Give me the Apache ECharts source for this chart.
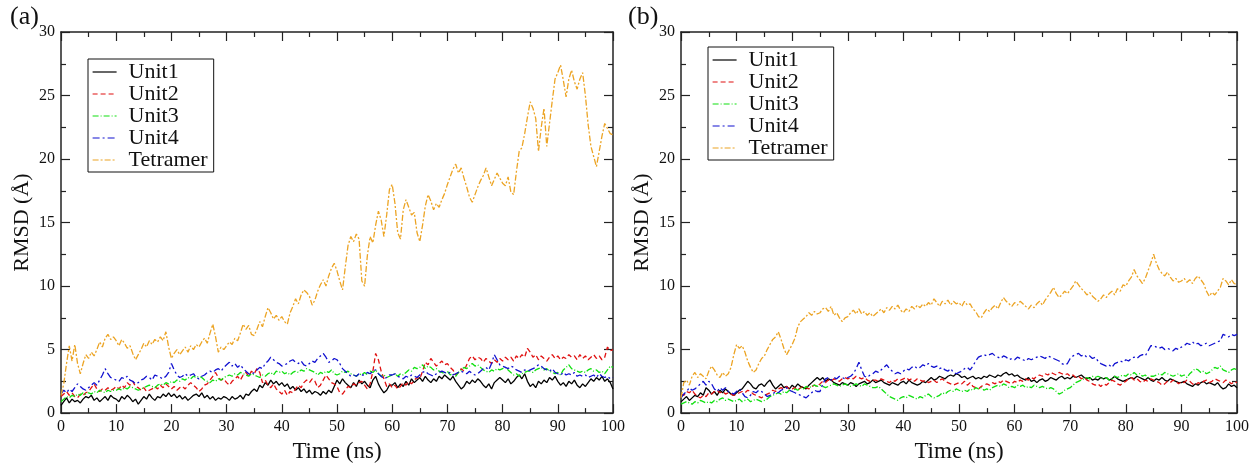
<!DOCTYPE html>
<html>
<head>
<meta charset="utf-8">
<script src="https://cdn.jsdelivr.net/npm/echarts@6/dist/echarts.min.js"></script>
<style>
html,body{margin:0;padding:0;background:#fff;}
#chart{width:1258px;height:468px;}
</style>
</head>
<body>
<div id="chart"></div>
<script>
// sampling step of the trajectories (ns)
const TIME_STEP = 0.5;
const seriesNames = ['Unit1', 'Unit2', 'Unit3', 'Unit4', 'Tetramer'];
const xTicks = [0, 10, 20, 30, 40, 50, 60, 70, 80, 90, 100];
const yTicks = [0, 5, 10, 15, 20, 25, 30];

// ---------- Panel (a) ----------
const a_unit1 = [
0.6,0.9,1.2,0.8,1.1,0.9,1.0,0.8,1.1,1.3,
1.2,1.4,1.0,1.2,0.9,1.1,1.3,1.0,1.4,1.2,
1.1,0.9,1.3,1.1,1.4,1.2,0.9,1.1,0.7,1.0,
1.3,1.1,1.5,1.2,1.0,1.3,1.2,1.5,1.3,1.6,
1.3,1.5,1.2,1.4,1.1,1.3,1.0,1.2,1.4,1.5,
1.3,1.6,1.2,1.4,1.1,1.3,1.0,1.2,1.1,1.3,
1.2,1.0,1.3,1.1,1.2,1.4,1.1,1.5,1.4,1.7,
1.9,1.7,2.2,2.0,2.4,2.2,2.6,2.3,2.5,2.2,
2.4,2.1,2.3,1.9,2.1,1.8,2.0,1.7,1.9,1.6,
1.8,1.5,1.7,1.6,1.4,1.7,1.5,1.8,1.6,2.1,
2.6,2.3,2.7,2.4,2.2,2.0,2.4,2.1,2.6,2.3,
2.5,2.2,2.0,2.6,2.9,2.3,1.9,1.6,1.8,2.2,
2.2,2.4,2.0,2.3,2.1,2.5,2.2,2.7,2.4,2.6,
2.8,2.5,2.9,2.6,2.4,2.7,2.5,2.9,2.7,3.0,
2.8,2.6,2.9,2.5,2.2,1.9,2.1,2.5,2.3,2.6,
2.4,2.7,2.5,2.2,2.0,2.3,1.9,2.4,2.6,2.8,
2.6,2.4,2.7,2.3,2.5,2.8,3.0,2.7,3.1,2.5,
2.1,2.3,2.0,2.5,2.3,2.6,2.4,2.8,2.6,2.9,
2.5,2.2,2.4,2.1,2.5,2.3,2.6,2.2,2.0,2.3,
2.1,2.4,2.7,2.5,2.8,2.6,2.9,2.5,2.7,2.4,
1.9];
const a_unit2 = [
1.3,1.5,1.7,1.4,1.6,1.3,1.2,1.5,1.4,1.6,
1.7,2.0,2.3,1.9,1.7,1.9,1.8,2.0,1.8,1.9,
2.1,1.9,2.2,2.0,2.4,2.2,2.5,2.1,2.0,1.8,
2.0,1.7,1.8,1.9,2.1,1.9,2.2,2.0,2.3,2.1,
1.9,2.1,1.8,2.0,2.1,1.9,2.2,2.4,2.2,2.0,
1.7,1.9,2.2,2.3,2.6,2.9,3.2,2.8,2.6,2.7,
2.4,2.2,2.5,2.7,2.9,2.6,3.0,3.2,2.9,3.3,
3.1,3.5,3.2,2.4,2.6,2.2,2.0,2.3,1.9,1.7,
1.5,1.8,1.4,1.7,1.6,1.9,2.2,2.0,2.4,2.6,
2.4,2.7,2.5,2.0,2.2,2.6,3.0,2.7,2.4,2.3,
2.1,1.6,1.5,1.8,2.1,2.0,2.3,2.2,2.4,2.5,
2.2,1.9,2.3,3.3,4.7,4.2,3.3,2.7,2.1,2.3,
2.0,2.2,1.9,2.1,2.4,2.2,2.5,2.3,2.6,2.8,
2.7,3.3,4.0,3.8,4.3,4.0,3.7,3.9,4.1,3.8,
3.9,3.6,3.4,3.0,3.2,3.5,3.3,3.8,4.3,4.5,
4.2,4.4,4.3,4.0,4.3,4.1,3.9,4.2,4.0,4.3,
4.1,4.4,4.2,4.4,4.1,4.5,4.3,4.6,4.4,5.1,
4.8,4.4,4.6,4.2,4.5,4.3,4.1,4.4,4.6,4.3,
4.5,4.2,4.4,4.3,4.6,4.4,4.5,4.2,4.6,4.3,
4.5,4.2,4.4,4.6,4.3,4.5,4.2,4.4,5.2,4.9,
5.0];
const a_unit3 = [
0.9,1.1,1.3,1.2,1.4,1.3,1.5,1.4,1.6,1.5,
1.6,1.5,1.7,1.6,1.8,1.7,1.6,1.8,1.7,1.8,
1.8,1.9,1.8,2.0,1.9,2.1,2.0,1.9,1.8,1.9,
2.0,2.1,2.2,2.1,2.0,2.2,2.3,2.2,2.4,2.3,
2.5,2.4,2.6,2.5,2.7,2.6,2.8,2.7,2.9,2.8,
2.9,2.8,2.6,2.5,2.4,2.6,2.5,2.7,2.6,2.8,
2.9,3.0,2.9,3.1,3.0,3.2,3.1,3.0,2.9,3.1,
3.0,2.9,2.8,3.0,2.9,3.1,3.2,3.0,3.3,3.2,
3.3,3.1,3.2,3.0,3.2,3.3,3.2,3.4,3.3,3.5,
3.4,3.3,3.2,3.0,3.2,3.1,3.3,3.2,3.4,3.1,
3.0,3.1,3.3,3.2,3.3,3.1,3.0,2.9,3.1,3.0,
3.2,3.0,3.3,3.2,3.4,3.1,2.9,3.0,2.8,2.9,
3.0,3.1,2.9,3.1,3.0,3.2,3.4,3.3,3.6,3.5,
3.6,3.8,3.5,3.7,3.6,3.4,3.5,3.3,3.2,3.1,
3.3,3.0,3.1,2.9,3.2,3.4,3.6,3.5,3.7,3.9,
3.7,3.8,3.6,3.4,3.3,3.2,3.4,3.3,3.5,3.4,
3.5,3.6,3.4,3.2,3.0,3.1,2.9,3.1,3.2,3.3,
3.3,3.2,3.4,3.5,3.6,3.4,3.5,3.3,3.2,3.1,
3.2,3.0,3.4,3.6,3.8,3.5,3.4,3.3,3.2,3.3,
3.2,3.4,3.5,3.3,3.4,3.2,3.3,3.1,3.4,3.7,
3.6];
const a_unit4 = [
1.5,1.8,1.6,1.9,1.7,2.0,2.3,2.1,1.9,1.8,
2.0,2.2,2.4,2.2,2.6,3.0,3.5,3.1,2.8,2.7,
2.6,2.5,2.8,2.7,2.9,2.6,2.5,2.3,2.4,2.6,
2.7,2.9,2.8,2.6,3.0,2.9,2.8,2.7,2.9,3.2,
3.9,3.4,3.0,2.8,2.9,3.1,2.9,3.0,3.1,2.8,
2.7,2.9,3.0,3.2,3.3,3.2,3.4,3.5,3.3,3.6,
3.8,4.0,3.7,3.9,3.6,3.8,3.5,3.3,3.1,3.0,
3.2,3.4,3.6,3.5,3.9,4.1,4.4,4.2,4.0,3.9,
3.7,3.8,3.9,4.1,4.2,4.0,3.9,4.1,3.8,3.7,
3.9,4.1,4.0,4.3,4.5,4.7,4.4,4.0,4.1,4.3,
4.2,3.9,3.5,3.3,3.1,2.9,3.0,2.9,3.1,3.0,
3.0,3.2,3.1,3.3,3.4,3.1,2.9,2.7,2.8,3.0,
3.0,3.1,2.9,2.8,2.7,2.9,2.8,3.0,2.9,2.8,
3.0,3.2,3.3,3.1,3.0,2.9,3.1,3.2,3.3,3.2,
3.1,3.2,3.0,3.1,3.2,3.3,3.2,3.1,3.3,3.1,
3.0,3.1,3.3,3.5,3.6,3.4,3.9,4.6,4.2,3.8,
3.7,3.6,3.5,3.7,3.6,3.4,3.3,3.2,3.4,3.3,
3.4,3.5,3.6,3.8,3.7,3.5,3.4,3.3,3.5,3.2,
3.1,3.0,3.2,3.0,3.1,3.0,3.2,2.9,3.0,2.9,
3.0,2.8,2.9,3.0,2.8,3.1,2.9,2.8,2.9,2.7,
2.8];
const a_tetramer = [
1.4,2.3,3.9,5.3,4.1,5.4,3.9,3.1,3.9,4.6,
4.3,4.8,4.5,5.0,5.6,5.2,5.9,6.2,5.8,6.0,
5.7,5.3,5.8,5.5,5.1,5.3,4.7,4.2,4.6,5.0,
5.5,5.2,5.7,5.4,5.8,5.6,6.0,5.7,6.4,5.2,
4.3,4.7,5.0,4.6,4.9,5.2,4.8,5.3,5.0,5.4,
5.2,5.6,5.9,5.5,6.3,7.0,6.0,4.8,5.2,5.0,
5.3,5.6,5.4,5.9,5.7,6.3,7.0,6.6,6.9,6.2,
6.1,6.6,7.2,6.8,7.6,8.3,7.9,7.4,7.7,7.3,
7.6,7.2,7.0,7.9,8.4,9.0,8.6,9.3,9.7,9.5,
9.2,8.5,8.9,9.6,10.1,10.5,10.0,10.8,11.4,11.8,
11.2,10.4,9.7,11.5,13.2,13.9,13.5,14.1,13.7,10.4,
10.0,12.4,13.9,13.4,14.8,15.9,15.2,13.9,15.6,17.6,
18.0,16.5,14.2,13.7,16.0,16.8,16.2,15.6,15.8,14.2,
13.5,14.8,16.3,17.2,16.7,16.0,16.5,16.2,16.8,17.3,
18.0,18.6,19.2,19.6,18.9,19.3,18.5,17.8,17.0,16.6,
17.2,17.8,18.3,18.7,19.3,18.6,17.9,18.4,18.9,18.5,
18.1,17.9,18.6,17.4,17.2,19.0,20.6,20.9,22.0,23.3,
24.5,24.0,23.2,20.6,22.5,24.0,21.0,22.8,24.6,26.3,
26.8,27.4,26.2,24.9,26.3,27.0,26.1,25.5,26.3,26.8,
25.0,22.7,21.0,20.2,19.4,20.6,21.8,22.8,22.4,22.0,
21.9];

// ---------- Panel (b) ----------
const b_unit1 = [
0.9,1.1,1.3,1.0,1.2,1.4,1.3,1.6,1.4,2.0,
1.8,1.5,1.7,1.4,1.8,1.6,1.9,1.7,1.5,1.4,
1.6,1.8,1.9,2.2,2.5,2.3,2.0,1.9,2.2,2.3,
2.1,2.4,2.6,2.2,1.9,2.1,2.3,2.0,2.1,1.9,
2.2,2.0,2.3,2.1,2.0,1.9,2.2,2.4,2.6,2.8,
2.6,2.8,2.5,2.7,2.6,2.4,2.3,2.2,2.4,2.3,
2.2,2.4,2.3,2.1,2.3,2.4,2.5,2.3,2.4,2.6,
2.4,2.5,2.6,2.4,2.3,2.2,2.4,2.3,2.2,2.4,
2.5,2.3,2.6,2.4,2.3,2.2,2.3,2.5,2.4,2.6,
2.8,2.6,2.7,2.9,2.8,2.7,2.9,3.0,2.9,3.1,
3.0,2.8,2.9,2.7,2.8,2.9,2.7,2.8,2.7,2.9,
2.8,3.0,2.9,2.8,3.0,2.9,3.1,3.2,3.0,3.1,
2.9,3.0,2.8,2.7,2.6,2.8,2.5,2.6,2.4,2.6,
2.7,2.5,2.6,2.8,2.7,2.6,2.8,2.9,2.7,2.8,
2.7,2.9,2.8,2.9,3.0,2.8,2.7,2.8,2.6,2.7,
2.6,2.8,2.7,2.8,2.6,2.7,2.9,2.7,2.6,2.5,
2.6,2.7,2.8,2.7,2.9,2.8,2.7,2.6,2.8,2.6,
2.5,2.7,2.6,2.8,2.6,2.5,2.7,2.6,2.5,2.4,
2.4,2.5,2.3,2.2,2.1,2.3,2.2,2.4,2.5,2.3,
2.4,2.3,2.2,2.4,2.1,1.9,2.0,2.3,2.1,2.2,
2.0];
const b_unit2 = [
1.5,1.4,1.7,1.6,1.8,1.5,1.3,1.2,1.4,1.3,
1.6,1.5,1.7,1.8,1.6,1.7,1.5,1.6,1.5,1.4,
1.5,1.6,1.7,1.6,1.8,1.7,1.5,1.4,1.3,1.2,
1.4,1.5,1.6,1.8,1.7,1.9,2.0,1.9,2.1,1.9,
1.9,2.0,1.8,2.0,2.1,2.0,1.9,2.1,2.2,2.1,
2.3,2.5,2.4,2.6,2.5,2.7,2.6,2.5,2.7,2.8,
2.7,2.8,2.7,2.9,2.8,2.7,2.8,2.6,2.5,2.6,
2.6,2.5,2.7,2.6,2.5,2.4,2.6,2.5,2.7,2.6,
2.7,2.8,2.6,2.7,2.5,2.7,2.6,2.5,2.6,2.4,
2.5,2.6,2.4,2.6,2.7,2.5,2.4,2.3,2.2,2.3,
2.4,2.3,2.5,2.2,2.4,2.1,2.0,1.9,2.1,2.2,
2.3,2.2,2.4,2.3,2.5,2.4,2.6,2.5,2.4,2.3,
2.5,2.4,2.6,2.5,2.7,2.6,2.8,2.7,2.9,3.0,
2.9,3.1,3.0,3.2,3.1,3.0,3.2,3.1,3.0,3.1,
2.9,3.0,2.8,2.9,2.7,2.8,2.6,2.5,2.3,2.2,
2.3,2.1,2.3,2.2,2.4,2.6,2.5,2.3,2.2,2.4,
2.5,2.7,2.8,2.6,2.7,2.5,2.4,2.6,2.5,2.7,
2.6,2.5,2.4,2.2,2.3,2.5,2.4,2.6,2.5,2.3,
2.5,2.4,2.6,2.5,2.3,2.2,2.4,2.3,2.5,2.6,
2.4,2.5,2.7,2.6,2.5,2.4,2.6,2.5,2.3,2.5,
2.4];
const b_unit3 = [
0.7,0.8,0.9,0.8,0.7,0.9,0.8,1.0,0.9,0.8,
0.9,0.8,1.0,0.9,1.1,1.2,1.0,1.1,1.0,0.9,
1.0,1.1,0.9,1.0,1.1,0.9,1.0,1.1,1.0,0.9,
1.0,1.1,1.3,1.4,1.5,1.6,1.5,1.7,1.6,1.8,
1.7,1.9,1.8,2.0,1.9,2.1,2.0,2.1,2.2,2.1,
2.2,2.1,2.0,2.1,2.2,2.3,2.2,2.1,2.2,2.3,
2.2,2.1,2.2,2.3,2.2,2.1,2.3,2.2,2.1,2.0,
2.0,2.1,1.9,1.7,1.5,1.3,1.2,1.1,1.0,1.2,
1.3,1.2,1.4,1.3,1.2,1.1,1.3,1.2,1.4,1.5,
1.3,1.2,1.3,1.4,1.6,1.5,1.7,1.8,1.7,1.9,
1.8,1.7,1.8,1.7,1.9,1.8,2.0,1.9,2.0,1.8,
1.9,1.8,2.0,2.1,2.2,2.1,2.3,2.2,2.0,2.1,
2.0,2.2,2.1,2.2,2.0,2.1,2.0,2.2,2.1,2.0,
2.1,2.0,1.9,2.0,1.9,1.7,1.5,1.6,1.8,1.9,
2.0,2.2,2.4,2.5,2.6,2.7,2.8,2.7,2.9,2.8,
2.9,2.8,2.7,2.8,2.6,2.7,2.9,2.8,2.9,3.0,
2.9,3.1,3.0,3.2,3.0,3.1,2.9,3.0,2.8,2.9,
2.9,3.0,3.1,3.0,3.2,3.1,3.0,2.9,3.0,3.1,
2.9,3.0,2.8,3.1,3.3,3.5,3.4,3.2,3.3,3.1,
3.2,3.4,3.6,3.5,3.7,3.4,3.3,3.2,3.4,3.5,
3.4];
const b_unit4 = [
1.2,1.5,1.7,2.0,1.8,1.9,2.1,2.3,2.5,2.2,
2.5,2.3,1.9,1.7,2.0,1.8,2.0,1.7,1.6,1.5,
1.7,1.9,1.6,1.3,1.2,1.4,1.7,1.6,1.8,1.7,
1.5,1.3,1.4,1.5,1.7,1.6,1.8,1.9,2.0,1.8,
1.7,1.6,1.5,1.4,1.3,1.2,1.4,1.6,1.8,1.7,
1.7,2.3,2.7,2.8,2.6,2.8,2.7,2.9,2.8,2.7,
2.8,2.9,3.1,3.5,4.0,3.4,2.9,2.8,3.0,3.1,
3.3,3.2,3.4,3.6,3.8,3.5,3.3,3.1,3.2,3.1,
3.3,3.5,3.4,3.6,3.7,3.5,3.6,3.8,3.7,3.9,
3.7,3.6,3.7,3.5,3.6,3.4,3.3,3.5,3.2,3.1,
3.2,3.3,3.5,3.6,3.4,3.7,4.1,4.4,4.5,4.6,
4.5,4.6,4.7,4.5,4.4,4.3,4.5,4.4,4.2,4.3,
4.2,4.4,4.3,4.2,4.1,4.3,4.2,4.3,4.4,4.5,
4.4,4.3,4.5,4.4,4.3,4.2,4.1,3.9,3.8,3.9,
4.3,4.5,4.6,4.7,4.5,4.6,4.4,4.5,4.3,4.4,
4.1,3.9,3.8,3.7,3.8,3.6,3.9,4.0,4.1,4.0,
4.2,4.1,4.3,4.4,4.3,4.5,4.6,4.5,4.9,5.3,
5.3,5.2,5.1,5.2,5.0,5.1,5.0,4.9,5.1,5.0,
5.2,5.3,5.5,5.4,5.6,5.4,5.5,5.3,5.4,5.5,
5.3,5.4,5.5,5.6,5.7,6.2,6.1,6.0,6.2,6.1,
6.2];
const b_tetramer = [
1.2,2.4,2.6,2.2,2.9,3.2,2.8,3.1,2.9,2.7,
3.3,3.7,3.4,3.0,2.8,3.2,2.9,3.1,3.6,4.6,
5.4,5.1,5.3,4.8,4.1,3.6,3.2,3.4,3.9,4.3,
4.5,5.0,5.4,5.8,6.0,6.4,5.8,5.1,4.6,5.0,
5.4,5.9,6.8,7.2,7.4,7.6,7.9,7.7,8.0,7.8,
7.9,8.2,8.3,8.0,8.4,7.7,7.9,7.5,7.2,7.5,
7.6,7.9,8.1,7.8,8.2,7.8,8.0,7.7,7.9,7.6,
7.8,8.0,8.2,7.9,8.3,8.1,8.4,8.2,8.5,8.1,
7.9,8.2,8.0,8.4,8.2,8.5,8.3,8.6,8.4,8.7,
8.5,9.0,8.7,8.4,8.8,8.6,8.9,8.5,8.8,8.6,
8.7,8.4,8.8,8.5,8.6,8.2,8.0,7.6,7.5,7.9,
8.2,8.0,8.3,8.5,8.2,8.7,9.1,8.8,8.6,8.4,
8.7,8.5,8.8,8.6,8.4,8.2,8.5,8.3,8.6,8.8,
8.5,8.9,9.2,9.5,9.9,9.4,9.1,9.3,9.6,9.4,
9.7,10.0,10.4,10.1,9.8,9.6,9.3,9.5,9.2,9.0,
8.8,9.0,9.3,9.1,9.4,9.6,9.3,9.8,9.6,10.1,
10.0,10.4,10.7,11.3,10.8,10.5,10.2,10.6,11.2,11.8,
12.5,11.8,11.3,11.0,10.8,11.1,10.7,10.4,10.6,10.3,
10.4,10.6,10.3,10.5,10.2,10.6,10.8,10.5,10.2,9.6,
9.2,9.5,9.3,9.6,9.9,10.6,10.4,10.1,10.5,10.2,
10.1];

const panelA = [a_unit1, a_unit2, a_unit3, a_unit4, a_tetramer];
const panelB = [b_unit1, b_unit2, b_unit3, b_unit4, b_tetramer];

// styles
const colors = ['#000000', '#e01010', '#10e010', '#1010d0', '#eca424'];
const dashes = ['solid', [5, 3], [6, 2, 1, 2], [7, 3, 2, 3], [6, 2, 2, 2]];
const SERIF = '"Liberation Serif", "DejaVu Serif", serif';

function toPairs(arr) { return arr.map((v, i) => [i * TIME_STEP, v]); }

const grids = [
  { left: 61, top: 32, width: 552, height: 387 },
  { left: 681, top: 32, width: 556, height: 387 }
];

const xAxes = [], yAxes = [], series = [];
grids.forEach((g, gi) => {
  const axLine = { show: true, onZero: false, lineStyle: { color: '#222', width: 1.5 } };
  const tick = { show: true, inside: true, length: 9, lineStyle: { color: '#222', width: 1.2 } };
  const minor = { show: true, splitNumber: 2, length: 5, lineStyle: { color: '#222', width: 1.2 } };
  xAxes.push({
    gridIndex: gi, type: 'value', position: 'bottom', min: xTicks[0], max: xTicks[xTicks.length - 1], interval: 10,
    axisLine: axLine, axisTick: tick, minorTick: minor, splitLine: { show: false },
    axisLabel: { color: '#111', fontFamily: SERIF, fontSize: 16, margin: 6 },
    name: 'Time (ns)', nameLocation: 'middle', nameGap: 23,
    nameTextStyle: { color: '#111', fontFamily: SERIF, fontSize: 23 }
  });
  xAxes.push({
    gridIndex: gi, type: 'value', position: 'top', min: 0, max: 100, interval: 10,
    axisLine: axLine, axisTick: tick, minorTick: minor, splitLine: { show: false },
    axisLabel: { show: false }
  });
  yAxes.push({
    gridIndex: gi, type: 'value', position: 'left', min: yTicks[0], max: yTicks[yTicks.length - 1], interval: 5,
    axisLine: axLine, axisTick: tick, minorTick: minor, splitLine: { show: false },
    axisLabel: { color: '#111', fontFamily: SERIF, fontSize: 16, margin: 6 },
    name: 'RMSD (Å)', nameLocation: 'middle', nameGap: 28,
    nameTextStyle: { color: '#111', fontFamily: SERIF, fontSize: 22 }
  });
  yAxes.push({
    gridIndex: gi, type: 'value', position: 'right', min: 0, max: 30, interval: 5,
    axisLine: axLine, axisTick: tick, minorTick: minor, splitLine: { show: false },
    axisLabel: { show: false }
  });
  const data = gi === 0 ? panelA : panelB;
  data.forEach((arr, si) => {
    series.push({
      name: seriesNames[si], type: 'line', xAxisIndex: gi * 2, yAxisIndex: gi * 2,
      data: toPairs(arr), symbol: 'none', animation: false, silent: true,
      lineStyle: { color: colors[si], width: 1.3, type: dashes[si] },
      itemStyle: { color: colors[si] }
    });
  });
});

function legendFor(left, top) {
  return {
    orient: 'vertical', left: left, top: top, itemGap: 0, itemWidth: 24, itemHeight: 14,
    padding: [2, 6, 1, 4], borderColor: '#111', borderWidth: 1, backgroundColor: '#fff',
    selectedMode: false, data: seriesNames,
    itemStyle: { opacity: 0 },
    lineStyle: { width: 1.2 },
    textStyle: { color: '#111', fontFamily: SERIF, fontSize: 22, lineHeight: 22, padding: [0, 0, 0, 7] }
  };
}

const chart = echarts.init(document.getElementById('chart'), null, { renderer: 'canvas' });
chart.setOption({
  backgroundColor: '#fff',
  animation: false,
  grid: grids,
  xAxis: xAxes,
  yAxis: yAxes,
  legend: [legendFor(88, 59), legendFor(708, 47)],
  graphic: [
    { type: 'text', left: 10, top: 4, style: { text: '(a)', font: '26px ' + SERIF, fill: '#111' } },
    { type: 'text', left: 628, top: 4, style: { text: '(b)', font: '26px ' + SERIF, fill: '#111' } }
  ],
  series: series
});
</script>
</body>
</html>
